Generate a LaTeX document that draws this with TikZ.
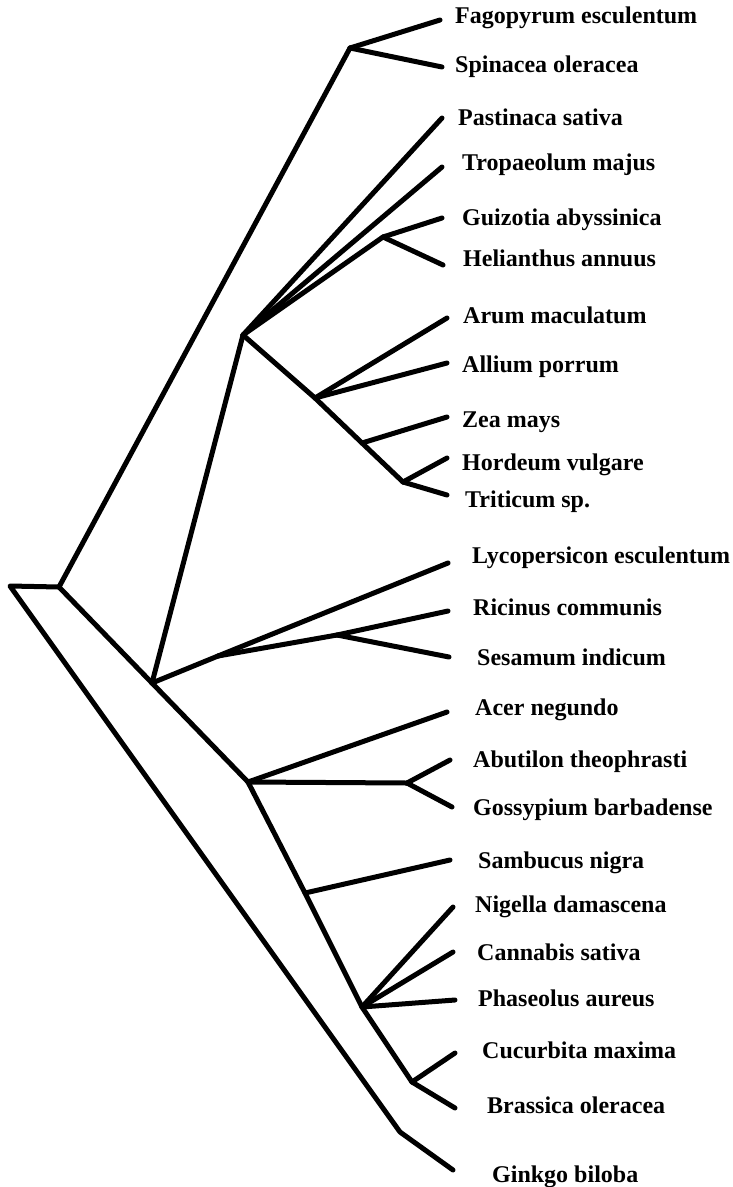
\documentclass[tikz,border=0pt]{standalone}
\usepackage{fontspec}
\setmainfont{Liberation Serif}
\begin{document}
\begin{tikzpicture}[x=1bp,y=-1bp,
  br/.style={line width=5bp,line cap=round,line join=round},
  lab/.style={anchor=base west,inner sep=0pt,font=\fontsize{24bp}{28bp}\selectfont\bfseries}]
\useasboundingbox (0,0) rectangle (733,1187);
% internal points
\coordinate (tip) at (10,586);
\coordinate (root) at (59,587);
\coordinate (fagN) at (350,48);
\coordinate (A) at (152,683);
\coordinate (J) at (243,335);
\coordinate (guiN) at (383,237);
\coordinate (arN) at (315,398);
\coordinate (zeN) at (362,443);
\coordinate (hoN) at (403,482);
\coordinate (B) at (218,656);
\coordinate (C) at (337,635);
\coordinate (D) at (248,782);
\coordinate (abN) at (407,783);
\coordinate (E) at (305,893);
\coordinate (F) at (362,1007);
\coordinate (G) at (412,1082);
\coordinate (gk1) at (400,1132);
% leaf ends
\coordinate (fagE) at (440,20);
\coordinate (spiE) at (442,67);
\coordinate (pasE) at (442,118);
\coordinate (troE) at (442,167);
\coordinate (guiE) at (442,218);
\coordinate (helE) at (443,265);
\coordinate (arE) at (447,318);
\coordinate (alE) at (447,363);
\coordinate (zeE) at (447,417);
\coordinate (hoE) at (447,458);
\coordinate (trE) at (447,495);
\coordinate (lyE) at (448,563);
\coordinate (riE) at (448,611);
\coordinate (seE) at (449,657);
\coordinate (acE) at (447,712);
\coordinate (abE) at (450,760);
\coordinate (goE) at (452,807);
\coordinate (saE) at (450,860);
\coordinate (niE) at (453,907);
\coordinate (caE) at (453,952);
\coordinate (phE) at (455,1000);
\coordinate (cuE) at (455,1053);
\coordinate (brE) at (455,1108);
\coordinate (gkE) at (453,1170);
% branches
\draw[br] (gkE) -- (gk1) -- (tip) -- (root);
\draw[br] (root) -- (fagN);
\draw[br] (fagN) -- (fagE);
\draw[br] (fagN) -- (spiE);
\draw[br] (root) -- (A) -- (D) -- (E) -- (F) -- (G);
\draw[br] (A) -- (J);
\draw[br] (J) -- (pasE);
\draw[br] (J) -- (troE);
\draw[br] (J) -- (guiN);
\draw[br] (guiN) -- (guiE);
\draw[br] (guiN) -- (helE);
\draw[br] (J) -- (arN) -- (zeN) -- (hoN);
\draw[br] (arN) -- (arE);
\draw[br] (arN) -- (alE);
\draw[br] (zeN) -- (zeE);
\draw[br] (hoN) -- (hoE);
\draw[br] (hoN) -- (trE);
\draw[br] (A) -- (B);
\draw[br] (B) -- (lyE);
\draw[br] (B) -- (C);
\draw[br] (C) -- (riE);
\draw[br] (C) -- (seE);
\draw[br] (D) -- (acE);
\draw[br] (D) -- (abN);
\draw[br] (abN) -- (abE);
\draw[br] (abN) -- (goE);
\draw[br] (E) -- (saE);
\draw[br] (F) -- (niE);
\draw[br] (F) -- (caE);
\draw[br] (F) -- (phE);
\draw[br] (G) -- (cuE);
\draw[br] (G) -- (brE);
% labels
\node[lab] (lfag) at (455,23) {Fagopyrum esculentum};
\node[lab] (lspi) at (455,72) {Spinacea oleracea};
\node[lab] (lpas) at (458,125) {Pastinaca sativa};
\node[lab] (ltro) at (462,170) {Tropaeolum majus};
\node[lab] (lgui) at (462,225) {Guizotia abyssinica};
\node[lab] (lhel) at (463,266) {Helianthus annuus};
\node[lab] (lar) at (463,323) {Arum maculatum};
\node[lab] (lal) at (462,372) {Allium porrum};
\node[lab] (lze) at (462,427) {Zea mays};
\node[lab] (lho) at (462,470) {Hordeum vulgare};
\node[lab] (ltr) at (465,507) {Triticum sp.};
\node[lab] (lly) at (472,563) {Lycopersicon esculentum};
\node[lab] (lri) at (473,615) {Ricinus communis};
\node[lab] (lse) at (477,665) {Sesamum indicum};
\node[lab] (lac) at (475,715) {Acer negundo};
\node[lab] (lab) at (473,767) {Abutilon theophrasti};
\node[lab] (lgo) at (473,815) {Gossypium barbadense};
\node[lab] (lsa) at (478,868) {Sambucus nigra};
\node[lab] (lni) at (475,912) {Nigella damascena};
\node[lab] (lca) at (477,960) {Cannabis sativa};
\node[lab] (lph) at (478,1006) {Phaseolus aureus};
\node[lab] (lcu) at (482,1058) {Cucurbita maxima};
\node[lab] (lbr) at (487,1113) {Brassica oleracea};
\node[lab] (lgk) at (492,1182) {Ginkgo biloba};
\end{tikzpicture}
\end{document}
